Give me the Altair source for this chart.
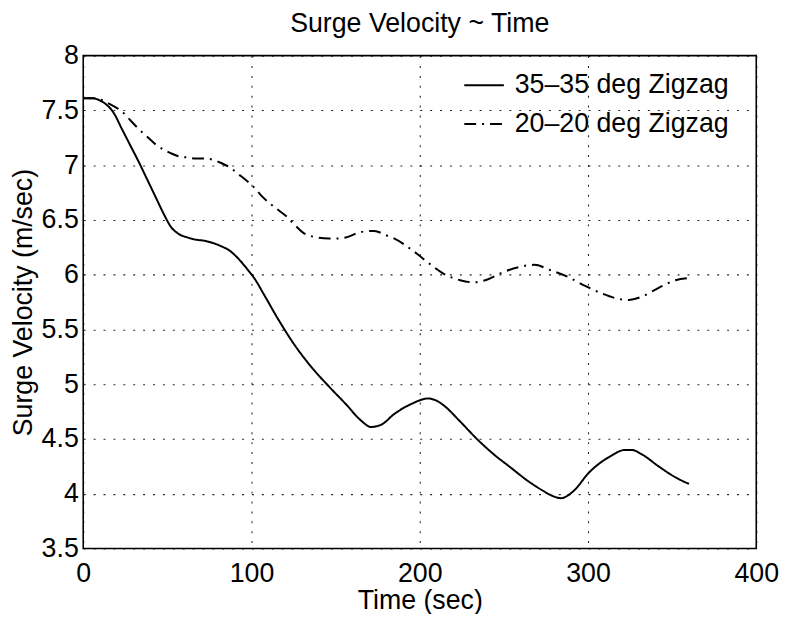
import altair as alt
import pandas as pd

# 35-35 deg zigzag (solid)
t_35 = [0, 6, 10, 14, 18, 23, 28, 33, 38, 43, 48, 52, 57, 62, 67, 72, 77, 82, 87, 92, 97,
        102, 107, 116, 126, 136, 146, 156, 165, 171, 177, 185, 195, 205, 210, 214, 224, 234,
        244, 254, 264, 273, 279, 284, 291, 301, 313, 322, 326, 332, 342, 352, 360]
v_35 = [7.61, 7.61, 7.59, 7.55, 7.48, 7.33, 7.18, 7.03, 6.87, 6.71, 6.55, 6.44, 6.37, 6.34,
        6.32, 6.31, 6.29, 6.26, 6.22, 6.15, 6.06, 5.96, 5.83, 5.59, 5.35, 5.15, 4.98, 4.82,
        4.67, 4.61, 4.63, 4.73, 4.82, 4.87, 4.85, 4.81, 4.66, 4.50, 4.36, 4.24, 4.12, 4.03,
        3.98, 3.96, 4.02, 4.20, 4.34, 4.40, 4.40, 4.36, 4.25, 4.15, 4.09]

# 20-20 deg zigzag (dash-dot)
t_20 = [0, 6, 10, 13, 18, 23, 28, 33, 38, 43, 48, 52, 57, 62, 67, 72, 77, 82, 87, 92, 97,
        102, 106, 111, 116, 121, 126, 131, 136, 146, 151, 156, 165, 173, 180, 185, 195, 205,
        214, 224, 232, 239, 249, 259, 268, 278, 288, 298, 308, 318, 324, 332, 342, 352, 360]
v_20 = [7.61, 7.61, 7.60, 7.58, 7.54, 7.49, 7.41, 7.33, 7.26, 7.19, 7.14, 7.11, 7.08, 7.07,
        7.06, 7.06, 7.05, 7.02, 6.98, 6.92, 6.86, 6.79, 6.72, 6.65, 6.59, 6.53, 6.45, 6.38,
        6.35, 6.33, 6.33, 6.34, 6.39, 6.40, 6.36, 6.33, 6.23, 6.11, 6.01, 5.95, 5.93, 5.95,
        6.02, 6.07, 6.09, 6.04, 5.98, 5.90, 5.83, 5.78, 5.77, 5.80, 5.88, 5.95, 5.97]

names = ["35–35 deg Zigzag", "20–20 deg Zigzag"]
x_ticks = [0, 100, 200, 300, 400]
y_ticks = [3.5, 4, 4.5, 5, 5.5, 6, 6.5, 7, 7.5, 8]

df = pd.concat([
    pd.DataFrame({"t": t_35, "v": v_35, "case": names[0]}),
    pd.DataFrame({"t": t_20, "v": v_20, "case": names[1]}),
])

FONT = "Liberation Sans"
FS = 27

chart = alt.Chart(df).mark_line(
    interpolate="monotone", strokeWidth=2, color="black"
).encode(
    x=alt.X("t:Q", scale=alt.Scale(domain=[0, 400], nice=False),
            axis=alt.Axis(values=x_ticks, title="Time (sec)", format="d")),
    y=alt.Y("v:Q", scale=alt.Scale(domain=[3.5, 8], nice=False, zero=False),
            axis=alt.Axis(values=y_ticks, title="Surge Velocity (m/sec)", format="~g")),
    strokeDash=alt.StrokeDash(
        "case:N",
        scale=alt.Scale(domain=names, range=[[1, 0], [12, 6, 2, 6]]),
        legend=alt.Legend(
            title=None, orient="none", legendX=384, legendY=9,
            symbolType="stroke", symbolSize=1600, symbolStrokeWidth=2,
            symbolStrokeColor="black", labelFontSize=FS, labelFont=FONT,
            labelColor="black", labelOffset=10, rowPadding=5, padding=0,
            labelLimit=400,
        ),
    ),
    detail="case:N",
).properties(
    width=680, height=498,
    title=alt.TitleParams("Surge Velocity ~ Time", fontSize=FS, font=FONT,
                          fontWeight="normal", color="black", offset=4, anchor="middle"),
    autosize=alt.AutoSizeParams(type="none"),
    padding={"left": 76, "top": 45, "right": 26, "bottom": 63},
).configure(
    background="white"
).configure_view(
    stroke="black", strokeWidth=1.6
).configure_axis(
    domain=False, ticks=False, grid=True, gridColor="black", gridDash=[2, 8],
    gridWidth=1.1, gridOpacity=0.85, labelFlush=False,
    labelFont=FONT, labelFontSize=FS, labelColor="black",
    titleFont=FONT, titleFontSize=FS, titleColor="black", titleFontWeight="normal",
).configure_axisX(
    labelPadding=12, titlePadding=2
).configure_axisY(
    labelPadding=5, titlePadding=4
)

chart.save("out.html", embed_options={"renderer": "svg", "actions": False})
